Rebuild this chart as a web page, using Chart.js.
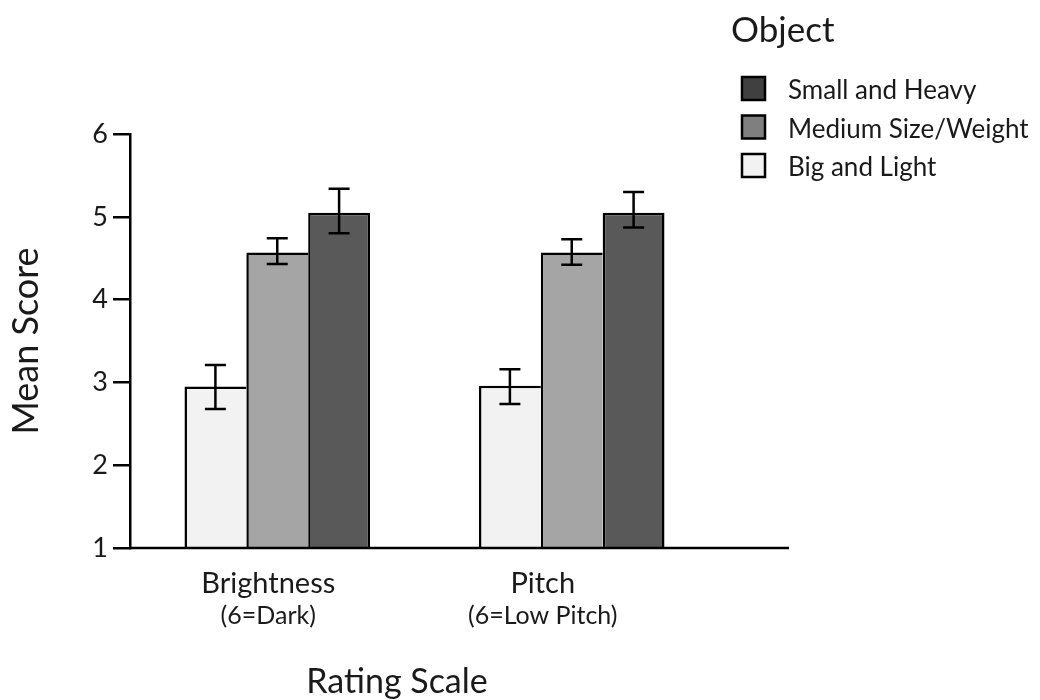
<!DOCTYPE html>
<html>
<head>
<meta charset="utf-8">
<script src="https://cdn.jsdelivr.net/npm/chart.js@4.4.1/dist/chart.umd.min.js"></script>
<style>
  html, body { margin: 0; padding: 0; background: #ffffff; }
  #wrap { width: 1040px; height: 700px; position: relative; }
</style>
</head>
<body>
<div id="wrap"><canvas id="chart"></canvas></div>
<script>
// Rating scales (x categories) and their anchor notes
const categories = ['Brightness', 'Pitch'];
const categoryNotes = ['(6=Dark)', '(6=Low Pitch)'];

// Object types
const seriesNames = ['Big and Light', 'Medium Size/Weight', 'Small and Heavy'];

// Mean scores per rating scale
const bigLight   = [2.95, 2.96];
const mediumSize = [4.57, 4.57];
const smallHeavy = [5.05, 5.05];

// Error bar extents (lower / upper) per rating scale
const bigLightLow    = [2.68, 2.74];
const bigLightHigh   = [3.21, 3.16];
const mediumSizeLow  = [4.43, 4.42];
const mediumSizeHigh = [4.74, 4.73];
const smallHeavyLow  = [4.80, 4.87];
const smallHeavyHigh = [5.34, 5.30];

// Value axis ticks
const yTicks = [1, 2, 3, 4, 5, 6];

const legendTitle = 'Object';
const xTitle = 'Rating Scale';
const yTitle = 'Mean Score';

const FONT = 'Lato';
const INK = '#1a1a1a';
Chart.defaults.font.family = FONT;
Chart.defaults.color = INK;

// Whiskers drawn on top of each bar from its dataset's low/high arrays
const errorBars = {
  id: 'errorBars',
  afterDatasetsDraw(chart) {
    const { ctx } = chart;
    const y = chart.scales.y;
    const capHalf = 10.5;
    ctx.save();
    ctx.strokeStyle = '#000';
    ctx.lineWidth = 2.5;
    chart.data.datasets.forEach((ds, di) => {
      chart.getDatasetMeta(di).data.forEach((bar, i) => {
        const top = y.getPixelForValue(ds.errHigh[i]);
        const bot = y.getPixelForValue(ds.errLow[i]);
        ctx.beginPath();
        ctx.moveTo(bar.x, top); ctx.lineTo(bar.x, bot);
        ctx.moveTo(bar.x - capHalf, top); ctx.lineTo(bar.x + capHalf, top);
        ctx.moveTo(bar.x - capHalf, bot); ctx.lineTo(bar.x + capHalf, bot);
        ctx.stroke();
      });
    });
    ctx.restore();
  }
};

// Baseline, category captions, axis title and the object legend
const frame = {
  id: 'frame',
  afterDraw(chart) {
    const { ctx, chartArea: a } = chart;
    const x = chart.scales.x;
    const y = chart.scales.y;
    ctx.save();

    // baseline runs past the last group
    const base = y.getPixelForValue(yTicks[0]);
    ctx.strokeStyle = '#000';
    ctx.lineWidth = 2.5;
    ctx.beginPath();
    ctx.moveTo(a.left - 1, base);
    ctx.lineTo(a.right + 70, base);
    ctx.stroke();

    // category captions
    const shift = [-9, -29];
    ctx.fillStyle = INK;
    ctx.textAlign = 'center';
    ctx.textBaseline = 'alphabetic';
    categories.forEach((c, i) => {
      const cx = x.getPixelForValue(i) + shift[i];
      ctx.font = `29px ${FONT}`;
      ctx.fillText(c, cx, 593);
      ctx.font = `25px ${FONT}`;
      ctx.fillText(categoryNotes[i], cx, 624);
    });

    // x axis title
    ctx.font = `34px ${FONT}`;
    ctx.fillText(xTitle, 397, 693);

    // legend
    ctx.textAlign = 'left';
    ctx.font = `35px ${FONT}`;
    ctx.fillText(legendTitle, 731, 42);
    ctx.font = `26px ${FONT}`;
    ctx.textBaseline = 'middle';
    const order = chart.data.datasets.map((d, i) => i).reverse();
    order.forEach((di, row) => {
      const ds = chart.data.datasets[di];
      const cy = 89 + row * 38.5;
      ctx.fillStyle = ds.legendColor;
      ctx.fillRect(742, cy - 12, 23, 23);
      ctx.strokeStyle = '#000';
      ctx.lineWidth = 2.5;
      ctx.strokeRect(742, cy - 12, 23, 23);
      ctx.fillStyle = INK;
      ctx.fillText(ds.label, 788, cy + 2);
    });
    ctx.restore();
  }
};

const innerBorder = { top: 2.5, left: 2.5, right: 0, bottom: 0 };
const outerBorder = { top: 2.5, left: 2.5, right: 2.5, bottom: 0 };

new Chart(document.getElementById('chart'), {
  type: 'bar',
  data: {
    labels: categories,
    datasets: [
      { label: seriesNames[0], data: bigLight, errLow: bigLightLow, errHigh: bigLightHigh,
        backgroundColor: '#f2f2f2', legendColor: '#f2f2f2', borderColor: '#000', borderWidth: innerBorder },
      { label: seriesNames[1], data: mediumSize, errLow: mediumSizeLow, errHigh: mediumSizeHigh,
        backgroundColor: '#a5a5a5', legendColor: '#7f7f7f', borderColor: '#000', borderWidth: innerBorder },
      { label: seriesNames[2], data: smallHeavy, errLow: smallHeavyLow, errHigh: smallHeavyHigh,
        backgroundColor: '#595959', legendColor: '#404040', borderColor: '#000', borderWidth: outerBorder }
    ]
  },
  options: {
    responsive: true,
    maintainAspectRatio: false,
    animation: false,
    layout: { padding: { left: 0, top: 134, right: 321, bottom: 152 } },
    datasets: { bar: { barPercentage: 1, categoryPercentage: 0.63, borderSkipped: false } },
    plugins: { legend: { display: false }, tooltip: { enabled: false } },
    scales: {
      x: {
        ticks: { display: false },
        grid: { display: false },
        border: { display: false },
        afterFit: s => { s.height = 0; }
      },
      y: {
        min: yTicks[0],
        max: yTicks[yTicks.length - 1],
        afterBuildTicks: s => { s.ticks = yTicks.map(v => ({ value: v })); },
        afterFit: s => { s.width = 130; },
        ticks: { font: { size: 27 }, color: INK, padding: 5 },
        grid: { drawOnChartArea: false, drawTicks: true, tickLength: 17, color: '#000', lineWidth: 2.5 },
        border: { display: true, color: '#000', width: 2.5 },
        title: { display: true, text: yTitle, color: INK, font: { size: 36 }, padding: { top: 5, bottom: 0 } }
      }
    }
  },
  plugins: [errorBars, frame]
});
</script>
</body>
</html>
